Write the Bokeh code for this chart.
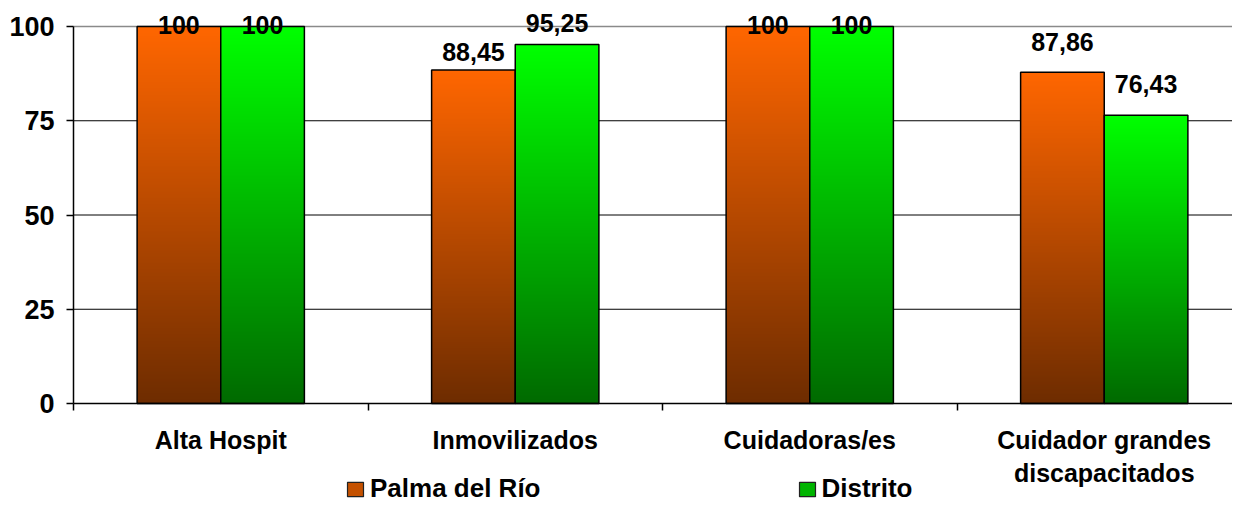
import numpy as np
from bokeh.plotting import figure
from bokeh.models import (ColumnDataSource, Range1d, FixedTicker, LabelSet, Legend,
                          LegendItem)
from bokeh.core.properties import value
from bokeh.embed import file_html
from bokeh.resources import INLINE

# ---- data ----
categories = ["Alta Hospit", "Inmovilizados", "Cuidadoras/es", "Cuidador grandes\ndiscapacitados"]
palma = [100, 88.45, 100, 87.86]
distrito = [100, 95.25, 100, 76.43]
series_names = ["Palma del Río", "Distrito"]
y_ticks = [0, 25, 50, 75, 100]

# ---- styles / layout ----
FONT = "Liberation Sans"
BAR_W = 0.284
DODGE = [-0.142, 0.142]
TOP_COLORS = [(255, 102, 0), (0, 255, 0)]
BOTTOM_COLORS = [(110, 44, 0), (0, 106, 0)]
LEGEND_COLORS = ["#C45100", "#00B400"]
label_dy = [[-7, 9, -7, 21], [-7, 12, -7, 22]]   # pixel offsets of value labels

W, H = 1232, 502
CAT_PX = 294.5          # pixels per category
LEFT_PX = 73            # x pixel of category axis origin
PX_PER_UNIT = 3.77      # pixels per y unit
ZERO_PX = 403           # y pixel (from top) of value 0
x_start = -LEFT_PX / CAT_PX
x_end = (W - LEFT_PX) / CAT_PX
y_start = -(H - ZERO_PX) / PX_PER_UNIT
y_end = ZERO_PX / PX_PER_UNIT

p = figure(width=W, height=H, x_range=Range1d(x_start, x_end), y_range=Range1d(y_start, y_end),
           output_backend="svg", toolbar_location=None,
           min_border_left=0, min_border_right=0, min_border_top=0, min_border_bottom=0)
p.outline_line_color = None
p.background_fill_color = "white"
p.grid.visible = False

# horizontal gridlines (from the axis to the right edge)
grid_vals = [t for t in y_ticks if t > 0]
p.segment(x0=[0] * len(grid_vals), x1=[x_end] * len(grid_vals), y0=grid_vals, y1=grid_vals,
          line_color=["black" if t < y_ticks[-1] else "#8a8a8a" for t in grid_vals],
          line_width=[1 if t < y_ticks[-1] else 1.5 for t in grid_vals])

M = 256


def gradient(c_bottom, c_top):
    arr = np.zeros((M, 1), dtype=np.uint32)
    view = arr.view(dtype=np.uint8).reshape((M, 1, 4))
    t = np.linspace(0, 1, M)
    for ch in range(3):
        view[:, 0, ch] = np.round(c_bottom[ch] + (c_top[ch] - c_bottom[ch]) * t).astype(np.uint8)
    view[:, 0, 3] = 255
    return arr


legend_renderers = []
for s, vals in enumerate([palma, distrito]):
    xs = [i + 0.5 + DODGE[s] for i in range(len(categories))]
    grad = gradient(BOTTOM_COLORS[s], TOP_COLORS[s])
    p.image_rgba(image=[grad] * len(vals), x=[x - BAR_W / 2 for x in xs], y=[0] * len(vals),
                 dw=[BAR_W] * len(vals), dh=vals)
    p.vbar(x=xs, top=vals, width=BAR_W, fill_color=None, line_color="black", line_width=1.5)
    lsrc = ColumnDataSource(dict(x=xs, y=vals,
                                 t=[("%g" % v).replace(".", ",") for v in vals],
                                 dy=label_dy[s]))
    p.add_layout(LabelSet(x="x", y="y", text="t", y_offset="dy", source=lsrc,
                          text_align="center", text_baseline="alphabetic",
                          text_font=value(FONT), text_font_style="bold",
                          text_font_size="25px", text_color="black"))
    # zero-height proxy bar (lies on the axis line) used only for the legend swatch
    r = p.vbar(x=xs[:1], top=[0], bottom=[0], width=BAR_W, fill_color=LEGEND_COLORS[s],
               line_color="#222222", line_width=1.2)
    legend_renderers.append(r)

# y axis at x = 0
yax = p.yaxis[0]
yax.fixed_location = 0
yax.bounds = (y_ticks[0], y_ticks[-1])
yax.ticker = FixedTicker(ticks=y_ticks)
yax.major_tick_out = 7
yax.major_tick_in = 0
yax.minor_tick_out = 0
yax.minor_tick_in = 0
yax.axis_line_color = "black"
yax.axis_line_width = 1.5
yax.major_tick_line_width = 1.5
yax.major_label_standoff = 12
yax.major_label_text_font = FONT
yax.major_label_text_font_style = "bold"
yax.major_label_text_font_size = "27px"
yax.major_label_text_color = "black"

# x axis at y = 0
xax = p.xaxis[0]
xax.fixed_location = 0
xax.bounds = (0, x_end)
centers = [i + 0.5 for i in range(len(categories))]
xax.ticker = FixedTicker(ticks=centers, minor_ticks=list(range(len(categories) + 1)))
xax.major_label_overrides = {c: name for c, name in zip(centers, categories)}
xax.major_tick_out = 0
xax.major_tick_in = 0
xax.minor_tick_out = 7
xax.minor_tick_in = 0
xax.minor_tick_line_color = "black"
xax.minor_tick_line_width = 1.5
xax.axis_line_color = "black"
xax.axis_line_width = 1.5
xax.major_label_standoff = 15
xax.major_label_text_font = FONT
xax.major_label_text_font_style = "bold"
xax.major_label_text_font_size = "25px"
xax.major_label_text_color = "black"
xax.major_label_text_align = "center"

legend = Legend(items=[LegendItem(label=n, renderers=[r]) for n, r in zip(series_names, legend_renderers)],
                orientation="horizontal", location=(345, -2), spacing=256,
                glyph_width=20, glyph_height=18, label_standoff=5,
                label_text_font=FONT, label_text_font_style="bold",
                label_text_font_size="26px", label_text_color="black",
                border_line_color=None, background_fill_alpha=0, padding=0, margin=0)
p.add_layout(legend, "center")

open("out.html", "w").write(file_html(p, INLINE))
